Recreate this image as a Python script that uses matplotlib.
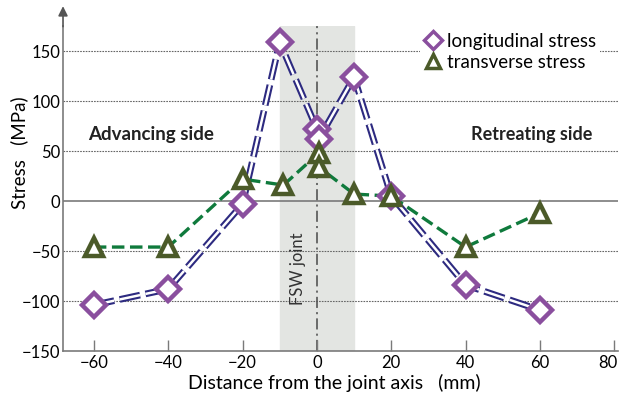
import matplotlib
matplotlib.use("Agg")
import matplotlib.pyplot as plt
import matplotlib.transforms as mtransforms
from matplotlib.lines import Line2D

plt.rcParams['font.family'] = ['Lato', 'DejaVu Sans']
plt.rcParams['lines.scale_dashes'] = False

long_x = [-60, -40, -20, -10, 0, 0.5, 10, 20, 40, 60]
long_y = [-104, -88, -3, 159, 72, 62, 124, 5, -84, -109]
trans_x = [-60, -40, -20, -9, 0.5, 0.5, 10, 20, 40, 60]
trans_y = [-46, -46, 22, 16, 48, 34, 7, 5, -46, -12]
xticks = [-60, -40, -20, 0, 20, 40, 60, 80]
yticks = [-150, -100, -50, 0, 50, 100, 150]

fig = plt.figure(figsize=(6.19, 3.96), dpi=100)
ax = fig.add_axes([0.1018, 0.1136, 0.896, 0.8204])
ax.set_xlim(-68.3, 80.9)
ax.set_ylim(-150, 175)

ax.axvspan(-10, 10, color='#e3e5e2', zorder=0)
for y in [-100, -50, 50, 100, 150]:
    ax.axhline(y, color='#666666', lw=0.8, ls=(0, (1.2, 0.8)), zorder=1)
ax.axhline(0, color='#7a7a7a', lw=1.2, zorder=1)
ax.axvline(0, color='#555555', lw=1.2, ls=(0, (8, 3, 1.5, 3)), zorder=1)

dash = (0, (15, 4))
ax.plot(long_x, long_y, color='#2d2a80', lw=4.8, ls=dash, zorder=3)
ax.plot(long_x, long_y, color='white', lw=1.8, ls=dash, zorder=3.1)
ax.plot(long_x, long_y, ls='none', marker='D', ms=12, mfc='white', mec='#8a4f9e', mew=3.2, zorder=4)

ax.plot(trans_x, trans_y, color='#0f7a3c', lw=2.4, ls=(0, (9, 4)), zorder=3.5)
ax.plot(trans_x, trans_y, ls='none', marker='^', ms=13, mfc='white', mec='#4b5a29', mew=3.2, zorder=4.5)

ax.text(-61.6, 67, 'Advancing side', fontsize=13.5, fontweight='bold', color='#222222', ha='left', va='center')
ax.text(41.4, 67, 'Retreating side', fontsize=13, fontweight='bold', color='#222222', ha='left', va='center')
ax.text(-5, -68, 'FSW joint', fontsize=12, color='#333333', rotation=90, ha='center', va='center')

for s in ['top', 'right']:
    ax.spines[s].set_visible(False)
for s in ['left', 'bottom']:
    ax.spines[s].set_color('#7a7a7a')
    ax.spines[s].set_linewidth(1.2)
ax.annotate('', xy=(0, 1.07), xytext=(0, 0.99), xycoords='axes fraction',
            arrowprops=dict(arrowstyle='-|>', color='#555555', lw=1.2, mutation_scale=14), annotation_clip=False)

ax.set_xticks(xticks)
ax.set_yticks(yticks)
ax.set_xticklabels([f'\u2212{-v}' if v < 0 else str(v) for v in xticks])
ax.set_yticklabels([f'\u2212{-v}' if v < 0 else str(v) for v in yticks])
ax.tick_params(axis='x', direction='in', length=8, width=1, color='#7a7a7a', labelsize=12, pad=3)
ax.tick_params(axis='y', length=0, labelsize=12, pad=2)
last = ax.get_xticklabels()[-1]
last.set_transform(last.get_transform() + mtransforms.ScaledTranslation(-6 / 100, 0, fig.dpi_scale_trans))
ax.set_xlabel('Distance from the joint axis   (mm)', fontsize=14)
ax.set_ylabel('Stress   (MPa)', fontsize=13.5)
ax.xaxis.set_label_coords(0.49, -0.07)
ax.yaxis.set_label_coords(-0.063, 0.61)

handles = [Line2D([], [], ls='none', marker='D', ms=9, mfc='white', mec='#8a4f9e', mew=2.5),
           Line2D([], [], ls='none', marker='^', ms=10, mfc='white', mec='#4b5a29', mew=2.5)]
leg = ax.legend(handles, ['longitudinal stress', 'transverse stress'], loc='upper right',
                bbox_to_anchor=(0.985, 1.02), frameon=True, fontsize=13.5, handletextpad=0.25,
                handlelength=1.0, borderpad=0.2, labelspacing=0.2)
leg.get_frame().set_edgecolor('none')
leg.get_frame().set_facecolor('white')
leg.get_frame().set_alpha(1)

fig.savefig('out.png', dpi=100)
